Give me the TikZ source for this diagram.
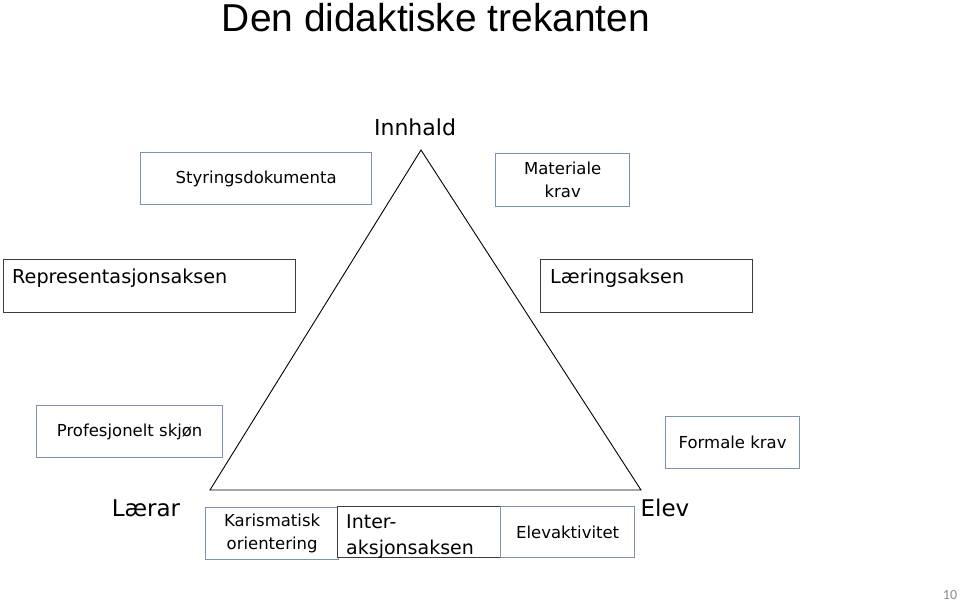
\documentclass[tikz,border=0pt]{standalone}
\usepackage{fontspec}
\setmainfont{DejaVu Sans}
\newfontfamily\titlefont{Liberation Sans}
\newfontfamily\pagefont{Carlito}
\definecolor{boxblue}{RGB}{125,145,180}
\definecolor{boxdark}{RGB}{60,60,60}
\definecolor{pagegrey}{RGB}{140,140,140}
\begin{document}
\begin{tikzpicture}[x=1pt,y=-1pt,
  bluebox/.style={draw=boxblue, line width=1.3pt, fill=white, inner sep=0pt, align=center, anchor=north west},
  darkbox/.style={draw=boxdark, line width=1.1pt, fill=white, inner sep=0pt, anchor=north west},
  txt/.style={inner sep=0pt, font=\fontsize{16.5}{23}\selectfont},
  bigtxt/.style={inner sep=0pt, font=\fontsize{19.2}{26}\selectfont},
  corner/.style={inner sep=0pt, font=\fontsize{22}{26}\selectfont}]
\useasboundingbox (0,0) rectangle (960,603);
\fill[white] (0,0) rectangle (960,603);
% title
\node[inner sep=0pt, font=\titlefont\fontsize{38.9}{44}\selectfont] (title) at (436,18) {Den didaktiske trekanten};
% triangle
\coordinate (top) at (421,150);
\coordinate (bl) at (210,490);
\coordinate (br) at (641,490);
\draw[line width=0.9pt] (top) -- (bl) -- (br) -- cycle;
% corner labels
\node[corner] (innhald) at (415,127) {Innhald};
\node[corner, font=\fontsize{23}{26}\selectfont] (laerar) at (146,508) {Lærar};
\node[corner, font=\fontsize{23}{26}\selectfont] (elev) at (665,508) {Elev};
% boxes
\node[bluebox, txt, minimum width=231pt, minimum height=52pt] (styr) at (140,152) {Styringsdokumenta};
\node[bluebox, txt, minimum width=134pt, minimum height=53pt] (mat) at (495,153) {Materiale\\krav};
\node[darkbox, minimum width=292pt, minimum height=53pt] (repbox) at (3,259) {};
\node[bigtxt, anchor=west] (rep) at (12,278) {Representasjonsaksen};
\node[darkbox, minimum width=212pt, minimum height=53pt] (laerbox) at (540,259) {};
\node[bigtxt, anchor=west] (laer) at (550,278) {Læringsaksen};
\node[bluebox, txt, minimum width=186pt, minimum height=52pt] (prof) at (36,405) {Profesjonelt skjøn};
\node[bluebox, txt, minimum width=134pt, minimum height=52pt] (form) at (665,416) {Formale krav};
\node[bluebox, txt, minimum width=133pt, minimum height=52pt] (kar) at (205,507) {Karismatisk\\orientering};
\node[darkbox, minimum width=163pt, minimum height=51pt] (interbox) at (337,506) {};
\node[anchor=north west, align=left, inner sep=0pt, font=\fontsize{19}{26}\selectfont] (inter) at (346,514) {Inter-\\aksjonsaksen};
\node[bluebox, txt, minimum width=134pt, minimum height=51pt] (elevakt) at (500,506) {Elevaktivitet};
% page number
\node[inner sep=0pt, text=pagegrey, font=\pagefont\fontsize{14}{16}\selectfont] (page) at (950,595) {10};
\end{tikzpicture}
\end{document}
